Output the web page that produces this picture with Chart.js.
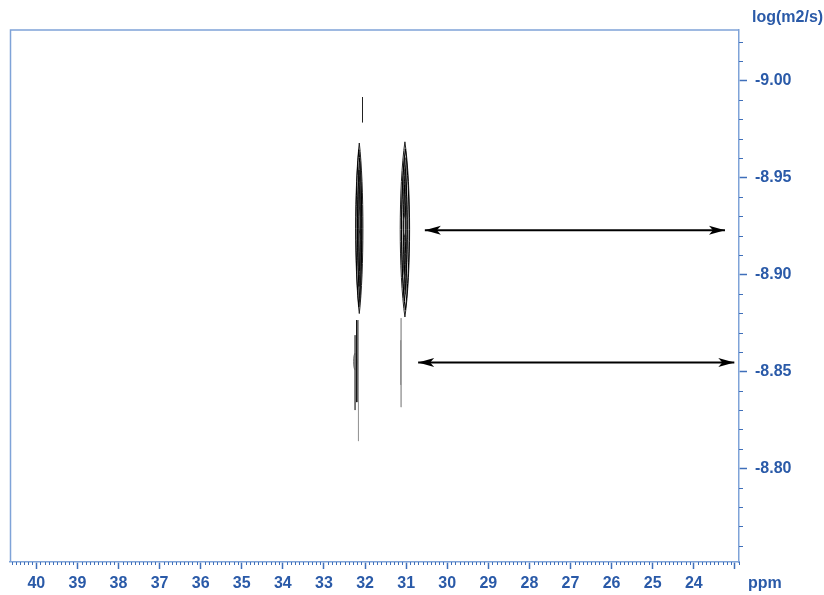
<!DOCTYPE html>
<html><head><meta charset="utf-8">
<script src="https://cdn.jsdelivr.net/npm/chart.js@4"></script>
<style>html,body{margin:0;padding:0;background:#fff}#wrap{width:824px;height:595px}</style>
</head><body><div id="wrap"><canvas id="c" width="824" height="595"></canvas></div>
<script>
// ---------- data ----------
const xTickValues = [40,39,38,37,36,35,34,33,32,31,30,29,28,27,26,25,24,23];
const xTickLabels = ['40','39','38','37','36','35','34','33','32','31','30','29','28','27','26','25','24',''];
const yTickValues = [-9.00,-8.95,-8.90,-8.85,-8.80];
const yTickLabels = ['-9.00','-8.95','-8.90','-8.85','-8.80'];
const xRange = [22.90, 40.64];      // ppm
const yRange = [-9.0261, -8.7516];  // log(m2/s)
const xTitle = 'ppm';
const yTitle = 'log(m2/s)';

// main contour peaks (centre + nested contour levels)
const peakPpm  = [32.14, 31.03];
const peakLogD = [-8.9238, -8.9232];
const levelHalfWidthPpm = [[0.088, 0.070, 0.052, 0.034, 0.018], [0.114, 0.092, 0.068, 0.044, 0.022]];
const levelHalfHeightLogD = [[0.0440, 0.0405, 0.0360, 0.0300, 0.0220], [0.0452, 0.0415, 0.0370, 0.0310, 0.0230]];
const levelShiftPpm = [[0, 0.010, -0.008, 0.006, -0.004], [0, -0.010, 0.010, -0.008, 0.004]];

// small inner contour spots
const spotPpm  = [32.13,32.13,32.13,32.13,32.13,32.13, 31.02,31.04,31.02,31.04,31.02,31.04,31.02, 32.24];
const spotLogD = [-8.952,-8.940,-8.928,-8.916,-8.904,-8.892, -8.955,-8.945,-8.935,-8.925,-8.915,-8.905,-8.895, -8.855];
const spotHw   = [0.018,0.020,0.021,0.021,0.020,0.018, 0.022,0.026,0.028,0.030,0.028,0.026,0.022, 0.035];
const spotHh   = [0.0060,0.0062,0.0064,0.0064,0.0062,0.0060, 0.0052,0.0055,0.0056,0.0058,0.0056,0.0055,0.0052, 0.0044];

// thin vertical traces
const tracePpm    = [32.242, 32.201, 32.160, 31.122, 31.122, 32.062];
const traceTop    = [-8.8686, -8.8764, -8.8764, -8.8774, -8.8660, -8.9914];
const traceBottom = [-8.8300, -8.8341, -8.8140, -8.8315, -8.8430, -8.9785];
const traceShade  = ['#666', '#111', '#999', '#aaa', '#111', '#222'];

// double-headed arrows
const arrowLogD    = [-8.9228, -8.8546];
const arrowFromPpm = [30.545, 30.708];
const arrowToPpm   = [23.241, 23.014];

// ---------- styles ----------
const LABEL = '#2a5aa8';
const AXIS = '#7fa3d8';
const TICK = '#3f6fba';
const FONT = {family: '"Liberation Sans", Arial, sans-serif', size: 16, weight: 'bold'};

const datasets = [];
tracePpm.forEach((p, i) => {
  datasets.push({
    type: 'line', data: [{x: p, y: traceTop[i]}, {x: p, y: traceBottom[i]}],
    borderColor: traceShade[i], borderWidth: 1, pointRadius: 0, showLine: true, fill: false
  });
});
arrowLogD.forEach((d, i) => {
  datasets.push({
    type: 'line', data: [{x: arrowFromPpm[i], y: d}, {x: arrowToPpm[i], y: d}],
    borderColor: '#000', borderWidth: 2, pointRadius: 0, showLine: true, fill: false, isArrow: true
  });
});

const contourPlugin = {
  id: 'contours',
  beforeDatasetsDraw(chart) {
    const {ctx, chartArea: a, scales: {x, y}} = chart;
    ctx.save();
    ctx.beginPath(); ctx.rect(a.left, a.top, a.right - a.left, a.bottom - a.top); ctx.clip();
    peakPpm.forEach((p, i) => {
      const cy = y.getPixelForValue(peakLogD[i]);
      levelHalfWidthPpm[i].forEach((hw, k) => {
        const pc = p + levelShiftPpm[i][k];
        const cx = x.getPixelForValue(pc);
        const rx = Math.abs(x.getPixelForValue(pc + hw) - cx) * 4 / 3;
        const ry = Math.abs(y.getPixelForValue(peakLogD[i] + levelHalfHeightLogD[i][k]) - cy);
        ctx.beginPath();
        ctx.moveTo(cx, cy - ry);
        ctx.bezierCurveTo(cx + rx, cy - 0.5 * ry, cx + rx, cy + 0.5 * ry, cx, cy + ry);
        ctx.bezierCurveTo(cx - rx, cy + 0.5 * ry, cx - rx, cy - 0.5 * ry, cx, cy - ry);
        ctx.closePath();
        ctx.strokeStyle = k === 0 ? '#222' : '#000';
        ctx.lineWidth = 1; ctx.stroke();
      });
    });
    spotPpm.forEach((p, i) => {
      const cx = x.getPixelForValue(p), cy = y.getPixelForValue(spotLogD[i]);
      const rx = Math.abs(x.getPixelForValue(p + spotHw[i]) - cx);
      const ry = Math.abs(y.getPixelForValue(spotLogD[i] + spotHh[i]) - cy);
      ctx.beginPath(); ctx.ellipse(cx, cy, rx, ry, 0, 0, Math.PI * 2);
      ctx.strokeStyle = '#222'; ctx.lineWidth = 0.8; ctx.stroke();
    });
    ctx.restore();
  },
  afterDatasetsDraw(chart) {
    const {ctx} = chart;
    chart.data.datasets.forEach((ds, i) => {
      if (!ds.isArrow) return;
      const pts = chart.getDatasetMeta(i).data;
      const head = (tx, ty, dir) => {
        ctx.beginPath();
        ctx.moveTo(tx, ty);
        ctx.lineTo(tx - dir * 16, ty - 4.5);
        ctx.lineTo(tx - dir * 12, ty);
        ctx.lineTo(tx - dir * 16, ty + 4.5);
        ctx.closePath();
        ctx.fillStyle = '#000'; ctx.fill();
      };
      const p0 = pts[0], p1 = pts[1];
      const dir = p1.x > p0.x ? 1 : -1;
      head(p1.x, p1.y, dir);
      head(p0.x, p0.y, -dir);
    });
  },
  afterDraw(chart) {
    const {ctx, chartArea: a, scales: {x, y}} = chart;
    ctx.save();
    // frame (top + left)
    ctx.strokeStyle = AXIS; ctx.lineWidth = 1.5;
    ctx.beginPath();
    ctx.moveTo(a.left + 0.5, a.bottom); ctx.lineTo(a.left + 0.5, a.top); ctx.lineTo(a.right, a.top);
    ctx.stroke();
    // minor ticks
    ctx.strokeStyle = TICK; ctx.lineWidth = 1;
    ctx.beginPath();
    for (let k = Math.ceil(xRange[0] * 10); k <= Math.floor(xRange[1] * 10); k++) {
      if (k % 10 === 0) continue;
      const px = Math.round(x.getPixelForValue(k / 10)) + 0.5;
      ctx.moveTo(px, a.bottom); ctx.lineTo(px, a.bottom + 3);
    }
    for (let k = Math.ceil(yRange[0] * 100); k <= Math.floor(yRange[1] * 100); k++) {
      if (k % 5 === 0) continue;
      const py = Math.round(y.getPixelForValue(k / 100)) + 0.5;
      ctx.moveTo(a.right, py); ctx.lineTo(a.right + 4, py);
    }
    ctx.stroke();
    // axis titles
    ctx.fillStyle = LABEL;
    ctx.font = 'bold 16px "Liberation Sans", Arial, sans-serif';
    ctx.textAlign = 'left'; ctx.textBaseline = 'middle';
    ctx.fillText(yTitle, a.right + 13, 18);
    ctx.fillText(xTitle, a.right + 9, 584);
    ctx.restore();
  }
};

new Chart(document.getElementById('c'), {
  type: 'scatter',
  data: {datasets},
  options: {
    responsive: false, animation: false, devicePixelRatio: 1,
    layout: {padding: {left: 10, top: 30, right: 0, bottom: 0}},
    plugins: {legend: {display: false}, tooltip: {enabled: false}},
    scales: {
      x: {
        type: 'linear', reverse: true, position: 'bottom', min: xRange[0], max: xRange[1],
        afterBuildTicks: s => { s.ticks = xTickValues.map(v => ({value: v})); },
        afterFit: s => { s.height = 33; },
        ticks: {callback: (v, i) => xTickLabels[i], font: FONT, color: LABEL, padding: 5, maxRotation: 0, autoSkip: false},
        grid: {drawOnChartArea: false, drawTicks: true, tickLength: 7, tickColor: TICK, tickWidth: 1.5},
        border: {color: AXIS, width: 1.5}
      },
      y: {
        type: 'linear', reverse: true, position: 'right', min: yRange[0], max: yRange[1],
        afterBuildTicks: s => { s.ticks = yTickValues.map(v => ({value: v})); },
        afterFit: s => { s.width = 85; },
        ticks: {callback: (v, i) => yTickLabels[i], font: FONT, color: LABEL, padding: 8, autoSkip: false},
        grid: {drawOnChartArea: false, drawTicks: true, tickLength: 8, tickColor: TICK, tickWidth: 1.5},
        border: {color: AXIS, width: 1.5}
      }
    }
  },
  plugins: [contourPlugin]
});
</script></body></html>
